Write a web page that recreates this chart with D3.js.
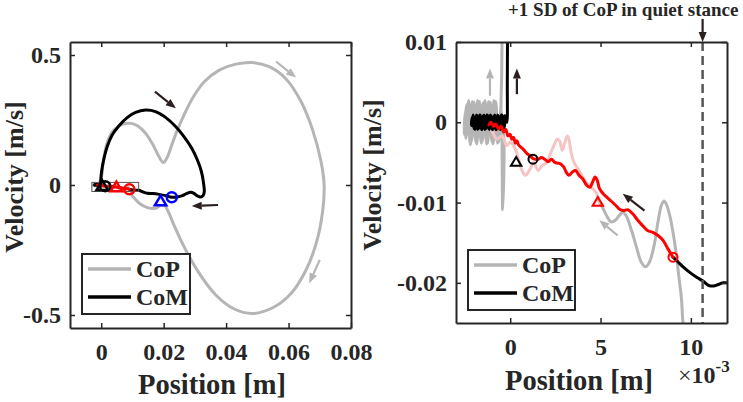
<!DOCTYPE html>
<html>
<head>
<meta charset="utf-8">
<script src="https://cdn.jsdelivr.net/npm/d3@7"></script>
<style>
body { margin: 0; background: #fff; }
svg { display: block; font-family: "Liberation Serif", "Times New Roman", serif; }
</style>
</head>
<body>
<svg id="chart" width="743" height="402"></svg>
<script>
// position in m, velocity in m/s
const seriesNames = ["CoP", "CoM"];

const leftXTicks = [0, 0.02, 0.04, 0.06, 0.08];
const leftYTicks = [-0.5, 0, 0.5];
const rightXTicks = [0, 0.005, 0.01];
const rightYTicks = [-0.02, -0.01, 0, 0.01];
const sdLine = 0.01065; // +1 SD of CoP in quiet stance

// CoP: quiet-stance scribble, then take-off
const copStart = [
    [-0.00050, 0.0025], [-0.00070, -0.0026], [-0.00090, 0.0027], [-0.00100, -0.0025], [-0.00120, 0.0026],
    [-0.00130, -0.0027], [-0.00150, 0.0024], [-0.00160, -0.0026], [-0.00180, 0.0027], [-0.00190, -0.0025],
    [-0.00210, 0.0026], [-0.00220, -0.0028], [-0.00240, 0.0022], [-0.00255, -0.0015], [-0.00250, 0.0012],
    [-0.00245, -0.0020], [-0.00230, 0.0027], [-0.00215, -0.0024], [-0.00200, 0.0025], [-0.00185, -0.0027],
    [-0.00170, 0.0026], [-0.00155, -0.0024], [-0.00140, 0.0027], [-0.00125, -0.0026], [-0.00110, 0.0025],
    [-0.00095, -0.0027], [-0.00080, 0.0026], [-0.00065, -0.0025], [-0.00050, 0.0015], [-0.00042, -0.0109],
    [-0.00035, -0.0020], [-0.00050, 0.0010], [-0.00047, 0.0060], [-0.00045, 0.0100], [-0.00030, 0.0200]
];
// CoP: big loop
const copLoop = [
    [0.0002, 0.038], [0.0005, 0.077], [0.0012, 0.128], [0.0022, 0.173], [0.0041, 0.212], [0.0067, 0.233],
    [0.0094, 0.237], [0.0116, 0.228], [0.0142, 0.199], [0.0166, 0.154], [0.0185, 0.109], [0.0199, 0.087],
    [0.0210, 0.103], [0.0226, 0.154], [0.0244, 0.212], [0.0265, 0.269], [0.0292, 0.333], [0.0330, 0.397],
    [0.0378, 0.442], [0.0431, 0.465], [0.0485, 0.471], [0.0538, 0.455], [0.0592, 0.408], [0.0640, 0.321],
    [0.0677, 0.212], [0.0704, 0.090], [0.0714, 0.000], [0.0709, -0.103], [0.0690, -0.218], [0.0656, -0.327],
    [0.0608, -0.417], [0.0549, -0.472], [0.0485, -0.494], [0.0426, -0.477], [0.0367, -0.423], [0.0314, -0.340],
    [0.0265, -0.237], [0.0233, -0.154], [0.0215, -0.103], [0.0204, -0.081], [0.0190, -0.079], [0.0172, -0.090],
    [0.0148, -0.087], [0.0123, -0.071], [0.0105, -0.049], [0.0098, -0.040]
];
// CoP: return close to the origin
const copReturn = [
    [0.00967, -0.0261], [0.00957, -0.0251], [0.00948, -0.0220], [0.00935, -0.0195], [0.00920, -0.0166],
    [0.00901, -0.0137], [0.00883, -0.0116], [0.00864, -0.0102], [0.00851, -0.0098], [0.00836, -0.0104],
    [0.00818, -0.0124], [0.00796, -0.0154], [0.00771, -0.0174], [0.00749, -0.0180], [0.00725, -0.0174],
    [0.00697, -0.0154], [0.00669, -0.0133], [0.00641, -0.0116], [0.00623, -0.0112], [0.00604, -0.0116],
    [0.00582, -0.0122], [0.00558, -0.0124], [0.00533, -0.0116], [0.00511, -0.0106], [0.00493, -0.0100]
];
// CoP: last phase (faded)
const copFaded = [
    [0.00493, -0.0100], [0.00474, -0.0087], [0.00437, -0.0079], [0.00409, -0.0071], [0.00381, -0.0060],
    [0.00353, -0.0050], [0.00335, -0.0035], [0.00325, -0.0021], [0.00316, -0.0017], [0.00303, -0.0025],
    [0.00288, -0.0035], [0.00273, -0.0023], [0.00260, -0.0021], [0.00242, -0.0029], [0.00223, -0.0039],
    [0.00204, -0.0050], [0.00177, -0.0054], [0.00154, -0.0060], [0.00130, -0.0050], [0.00106, -0.0060],
    [0.00084, -0.0066], [0.00065, -0.0060], [0.00046, -0.0046], [0.00028, -0.0033], [0.00000, -0.0025],
    [-0.00019, -0.0029], [-0.00046, -0.0017], [-0.00074, -0.0021], [-0.00102, -0.0010], [-0.00121, -0.0002],
    [-0.00139, -0.0006]
];

// CoM: quiet-stance scribble, then take-off
const comStart = [
    [-0.00030, 0.0008], [-0.00040, -0.0009], [-0.00050, 0.0009], [-0.00060, -0.0008], [-0.00070, 0.0009],
    [-0.00080, -0.0009], [-0.00090, 0.0008], [-0.00100, -0.0009], [-0.00110, 0.0009], [-0.00120, -0.0008],
    [-0.00130, 0.0009], [-0.00140, -0.0009], [-0.00150, 0.0008], [-0.00160, -0.0009], [-0.00170, 0.0009],
    [-0.00180, -0.0009], [-0.00190, 0.0008], [-0.00200, -0.0008], [-0.00210, 0.0006], [-0.00215, -0.0004],
    [-0.00205, 0.0009], [-0.00195, -0.0009], [-0.00185, 0.0009], [-0.00175, -0.0008], [-0.00165, 0.0009],
    [-0.00155, -0.0009], [-0.00145, 0.0009], [-0.00135, -0.0008], [-0.00125, 0.0009], [-0.00115, -0.0009],
    [-0.00105, 0.0008], [-0.00095, -0.0009], [-0.00085, 0.0009], [-0.00075, -0.0009], [-0.00065, 0.0008],
    [-0.00055, -0.0009], [-0.00045, 0.0009], [-0.00035, -0.0009], [-0.00025, 0.0007], [-0.00018, 0.0000],
    [-0.00016, 0.0050], [-0.00015, 0.0100], [-0.00010, 0.0250]
];
// CoM: big loop
const comLoop = [
    [0.0001, 0.051], [0.0009, 0.103], [0.0019, 0.147], [0.0035, 0.192], [0.0057, 0.228], [0.0083, 0.259],
    [0.0110, 0.279], [0.0142, 0.288], [0.0174, 0.282], [0.0207, 0.259], [0.0239, 0.224], [0.0265, 0.186],
    [0.0290, 0.141], [0.0308, 0.096], [0.0321, 0.051], [0.0327, 0.013], [0.0330, -0.026], [0.0326, -0.041],
    [0.0319, -0.046], [0.0308, -0.042], [0.0297, -0.032], [0.0287, -0.028], [0.0273, -0.033], [0.0260, -0.041],
    [0.0244, -0.046], [0.0226, -0.047], [0.0207, -0.041], [0.0185, -0.036], [0.0166, -0.033], [0.0148, -0.032],
    [0.0134, -0.027]
];
const comTail = [
    [0.01208, -0.0201], [0.01180, -0.0200], [0.01152, -0.0202], [0.01125, -0.0204], [0.01097, -0.0203],
    [0.01069, -0.0198], [0.01032, -0.0193], [0.00994, -0.0187], [0.00957, -0.0180], [0.00929, -0.0174],
    [0.00901, -0.0168]
];
// CoM: last phase (highlighted)
const comLast = [
    [0.00901, -0.0168], [0.00874, -0.0158], [0.00846, -0.0147], [0.00818, -0.0141], [0.00790, -0.0137],
    [0.00762, -0.0135], [0.00734, -0.0129], [0.00706, -0.0122], [0.00678, -0.0114], [0.00651, -0.0109],
    [0.00626, -0.0110], [0.00604, -0.0108], [0.00582, -0.0103], [0.00558, -0.0098], [0.00533, -0.0093],
    [0.00511, -0.0088], [0.00493, -0.0082], [0.00483, -0.0073], [0.00470, -0.0068], [0.00455, -0.0075],
    [0.00441, -0.0081], [0.00422, -0.0078], [0.00403, -0.0071], [0.00381, -0.0066], [0.00362, -0.0060],
    [0.00344, -0.0062], [0.00325, -0.0066], [0.00310, -0.0062], [0.00297, -0.0056], [0.00279, -0.0052],
    [0.00266, -0.0051], [0.00247, -0.0050], [0.00229, -0.0046], [0.00210, -0.0049], [0.00191, -0.0046],
    [0.00173, -0.0044], [0.00154, -0.0046], [0.00139, -0.0046], [0.00126, -0.0045], [0.00112, -0.0042],
    [0.00093, -0.0039], [0.00074, -0.0034], [0.00059, -0.0031], [0.00046, -0.0028], [0.00037, -0.0023],
    [0.00028, -0.0026], [0.00019, -0.0019], [0.00009, -0.0021], [0.00000, -0.0015], [-0.00013, -0.0017],
    [-0.00024, -0.0009], [-0.00037, -0.0012], [-0.00050, -0.0005], [-0.00065, -0.0008], [-0.00080, -0.0002],
    [-0.00093, -0.0005], [-0.00106, 0.0000], [-0.00117, -0.0003]
];

// event markers (black, red, blue phases)
const triangleEvents = [[0.00033, -0.0050], [0.00485, -0.0100], [0.0190, -0.064]];
const circleEvents = [[0.00126, -0.0046], [0.00901, -0.0168], [0.0226, -0.047]];

// direction arrows: series, x1, y1, x2, y2
const leftArrows = [
    ["CoM", 0.0172, 0.359, 0.0239, 0.295],
    ["CoM", 0.0374, -0.077, 0.0290, -0.081],
    ["CoP", 0.0560, 0.475, 0.0624, 0.413],
    ["CoP", 0.0700, -0.288, 0.0666, -0.378]
];
const rightArrows = [
    ["CoP", -0.00112, 0.0033, -0.00112, 0.0067],
    ["CoM", 0.00037, 0.0035, 0.00037, 0.0067],
    ["CoM", 0.00743, -0.0110, 0.00623, -0.0089],
    ["CoP", 0.00595, -0.0141, 0.00493, -0.0122]
];

const ink = "#262626";
const colors = { CoP: "#b5b5b5", CoM: "#000000", faded: "#f6c4c4", last: "#ff0000", arrow: "#2b1e1e" };
const eventColors = ["#000000", "#ff0000", "#0000ff"];

const svg = d3.select("#chart");

const xL = d3.scaleLinear().domain([-0.01, 0.08]).range([70, 351]);
const yL = d3.scaleLinear().domain([-0.55, 0.55]).range([328, 42]);
const xR = d3.scaleLinear().domain([-0.003, 0.012]).range([456, 727]);
const yR = d3.scaleLinear().domain([-0.025, 0.01]).range([323, 42]);

function makePanel(x, y, id) {
    const g = svg.append("g");
    g.append("clipPath").attr("id", id)
        .append("rect")
        .attr("x", x.range()[0]).attr("y", y.range()[1])
        .attr("width", x.range()[1] - x.range()[0])
        .attr("height", y.range()[0] - y.range()[1]);
    const plot = g.append("g").attr("clip-path", `url(#${id})`);
    return { g, plot };
}

function drawLine(plot, x, y, data, color, width) {
    const line = d3.line()
        .x(d => x(d[0]))
        .y(d => y(d[1]))
        .curve(d3.curveCatmullRom.alpha(0.5));
    plot.append("path")
        .datum(data)
        .attr("d", line)
        .attr("fill", "none")
        .attr("stroke", color)
        .attr("stroke-width", width)
        .attr("stroke-linejoin", "round")
        .attr("stroke-linecap", "round");
}

function drawArrow(g, x1, y1, x2, y2, color) {
    const dx = x2 - x1, dy = y2 - y1;
    const len = Math.sqrt(dx * dx + dy * dy);
    const ux = dx / len, uy = dy / len;
    const head = 10, half = 4;
    const bx = x2 - ux * head, by = y2 - uy * head;
    g.append("line")
        .attr("x1", x1).attr("y1", y1)
        .attr("x2", bx).attr("y2", by)
        .attr("stroke", color).attr("stroke-width", 2.2);
    g.append("path")
        .attr("d", `M${x2},${y2}L${bx - uy * half},${by + ux * half}L${bx + uy * half},${by - ux * half}Z`)
        .attr("fill", color);
}

function drawMarkers(plot, x, y, r, tri, sw) {
    triangleEvents.forEach((d, i) => {
        const cx = x(d[0]), cy = y(d[1]);
        plot.append("path")
            .attr("d", `M${cx},${cy - tri}L${cx + tri * 0.95},${cy + tri * 0.6}L${cx - tri * 0.95},${cy + tri * 0.6}Z`)
            .attr("fill", "none")
            .attr("stroke", eventColors[i])
            .attr("stroke-width", sw);
    });
    circleEvents.forEach((d, i) => {
        plot.append("circle")
            .attr("cx", x(d[0])).attr("cy", y(d[1]))
            .attr("r", r)
            .attr("fill", "none")
            .attr("stroke", eventColors[i])
            .attr("stroke-width", sw);
    });
}

function drawAxes(g, x, y, xTicks, xFmt, yTicks, yFmt) {
    const bottom = y.range()[0], top = y.range()[1];
    const left = x.range()[0], right = x.range()[1];
    const axes = [
        g.append("g").attr("transform", `translate(0,${bottom})`)
            .call(d3.axisBottom(x).tickValues(xTicks).tickFormat(xFmt).tickSize(-5).tickSizeOuter(0).tickPadding(15)),
        g.append("g").attr("transform", `translate(0,${top})`)
            .call(d3.axisTop(x).tickValues(xTicks).tickFormat("").tickSize(-5).tickSizeOuter(0)),
        g.append("g").attr("transform", `translate(${left},0)`)
            .call(d3.axisLeft(y).tickValues(yTicks).tickFormat(yFmt).tickSize(-5).tickSizeOuter(0).tickPadding(9)),
        g.append("g").attr("transform", `translate(${right},0)`)
            .call(d3.axisRight(y).tickValues(yTicks).tickFormat("").tickSize(-5).tickSizeOuter(0))
    ];
    axes.forEach(a => {
        a.select(".domain").attr("stroke", ink).attr("stroke-width", 2);
        a.selectAll(".tick line").attr("stroke", ink).attr("stroke-width", 1.5);
        a.selectAll("text")
            .style("font-family", "'Liberation Serif', 'Times New Roman', serif")
            .style("font-size", "24px")
            .style("font-weight", "bold")
            .attr("fill", ink);
    });
}

function drawLegend(g, x0, y0, w, h) {
    g.append("rect")
        .attr("x", x0).attr("y", y0).attr("width", w).attr("height", h)
        .attr("fill", "#fff").attr("stroke", ink).attr("stroke-width", 2);
    seriesNames.forEach((name, i) => {
        const yy = y0 + 15 + i * 28;
        g.append("line")
            .attr("x1", x0 + 6).attr("x2", x0 + 49)
            .attr("y1", yy).attr("y2", yy)
            .attr("stroke", colors[name]).attr("stroke-width", 3.5);
        g.append("text")
            .attr("x", x0 + 54).attr("y", yy).attr("dy", "0.33em")
            .style("font-size", "24px").style("font-weight", "bold")
            .attr("fill", ink)
            .text(name);
    });
}

function axisTitles(g, xCenter, xBase, yLeft, yCenter) {
    g.append("text")
        .attr("x", xCenter).attr("y", xBase)
        .attr("text-anchor", "middle")
        .style("font-size", "28.5px").style("font-weight", "bold").attr("fill", ink)
        .text("Position [m]");
    g.append("text")
        .attr("transform", `translate(${yLeft},${yCenter}) rotate(-90)`)
        .attr("text-anchor", "middle")
        .style("font-size", "26px").style("font-weight", "bold").attr("fill", ink)
        .text("Velocity [m/s]");
}

// ---------- left panel: whole movement ----------
const left = makePanel(xL, yL, "clipL");
drawLine(left.plot, xL, yL, copStart.concat(copLoop, copReturn), colors.CoP, 3);
drawLine(left.plot, xL, yL, copFaded, colors.faded, 3);
drawLine(left.plot, xL, yL, comStart.concat(comLoop, comTail), colors.CoM, 3);
drawLine(left.plot, xL, yL, comLast, colors.last, 3);

// zoom window shown on the right
left.plot.append("rect")
    .attr("x", xL(xR.domain()[0])).attr("y", yL(yR.domain()[1]))
    .attr("width", xL(xR.domain()[1]) - xL(xR.domain()[0]))
    .attr("height", yL(yR.domain()[0]) - yL(yR.domain()[1]))
    .attr("fill", "none").attr("stroke", "#555").attr("stroke-width", 1);

drawMarkers(left.plot, xL, yL, 5, 6, 2.5);
leftArrows.forEach(a => drawArrow(left.g, xL(a[1]), yL(a[2]), xL(a[3]), yL(a[4]),
    a[0] === "CoP" ? colors.CoP : colors.arrow));
drawAxes(left.g, xL, yL, leftXTicks, d => String(d), leftYTicks, d => String(d));
drawLegend(left.g, 82, 254, 108, 60);
axisTitles(left.g, 212, 394, 23, 177);

// ---------- right panel: close to quiet stance ----------
const right = makePanel(xR, yR, "clipR");
drawLine(right.plot, xR, yR, copStart.concat(copLoop, copReturn), colors.CoP, 3);
drawLine(right.plot, xR, yR, copFaded, colors.faded, 3);
drawLine(right.plot, xR, yR, comStart.concat(comLoop, comTail), colors.CoM, 3);
drawLine(right.plot, xR, yR, comLast, colors.last, 3);

right.plot.append("line")
    .attr("x1", xR(sdLine)).attr("x2", xR(sdLine))
    .attr("y1", yR.range()[1]).attr("y2", yR.range()[0])
    .attr("stroke", "#555").attr("stroke-width", 2.5)
    .attr("stroke-dasharray", "9,5");

drawMarkers(right.plot, xR, yR, 4.5, 5.5, 2);
rightArrows.forEach(a => drawArrow(right.g, xR(a[1]), yR(a[2]), xR(a[3]), yR(a[4]),
    a[0] === "CoP" ? colors.CoP : colors.arrow));
drawAxes(right.g, xR, yR, rightXTicks, d => String(Math.round(d * 1000)), rightYTicks, d => String(d));
drawLegend(right.g, 468, 250, 107, 60);
axisTitles(right.g, 579, 390, 381, 175);

drawArrow(right.g, xR(sdLine), 19, xR(sdLine), 42, colors.arrow);
right.g.append("text")
    .attr("x", 508).attr("y", 16)
    .style("font-size", "19px").style("font-weight", "bold").attr("fill", ink)
    .text("+1 SD of CoP in quiet stance");

const exp = right.g.append("text")
    .attr("x", 678).attr("y", 383)
    .style("font-size", "24px").style("font-weight", "bold").attr("fill", ink);
exp.append("tspan").style("font-weight", "normal").text("\u00d7");
exp.append("tspan").text("10");
exp.append("tspan").attr("dy", -11).style("font-size", "17px").text("-3");
</script>
</body>
</html>
